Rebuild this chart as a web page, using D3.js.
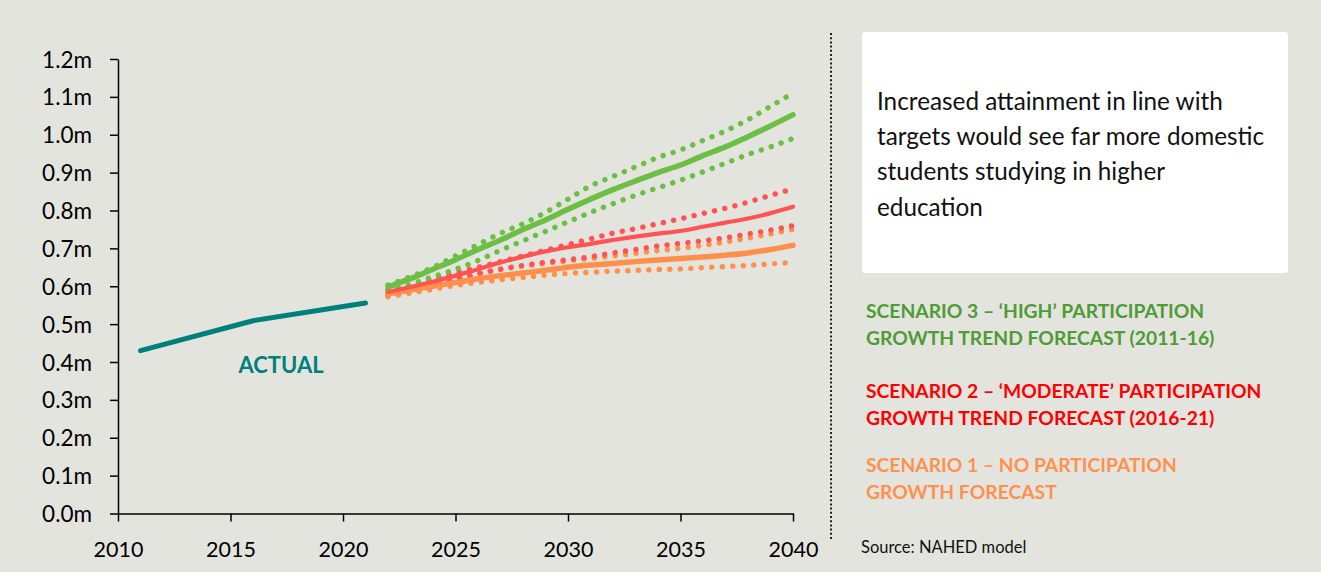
<!DOCTYPE html>
<html>
<head>
<meta charset="utf-8">
<script src="https://cdn.jsdelivr.net/npm/d3@7"></script>
<style>
  html, body { margin: 0; padding: 0; background: #e4e4df; }
  svg { display: block; font-family: Lato, "Open Sans", sans-serif; }
</style>
</head>
<body>
<svg id="chart" width="1321" height="572"></svg>
<script>
// Higher education domestic student numbers (millions)
const actualYears = [2011, 2016, 2021];
const actualValues = [0.43, 0.509, 0.556];

const forecastYears = [2022, 2023, 2024, 2025, 2026, 2027, 2028, 2029, 2030, 2031,
                       2032, 2033, 2034, 2035, 2036, 2037, 2038, 2039, 2040];

// Scenario 3 – 'high' participation growth trend (2011-16)
const highMid  = [0.598, 0.620, 0.645, 0.670, 0.697, 0.722, 0.750, 0.775, 0.803, 0.830,
                  0.855, 0.878, 0.900, 0.920, 0.945, 0.968, 0.995, 1.023, 1.053];
const highUp   = [0.603, 0.625, 0.650, 0.680, 0.710, 0.740, 0.765, 0.795, 0.830, 0.865,
                  0.890, 0.915, 0.940, 0.960, 0.985, 1.010, 1.040, 1.075, 1.110];
const highLow  = [0.590, 0.605, 0.625, 0.645, 0.668, 0.695, 0.720, 0.745, 0.770, 0.795,
                  0.818, 0.840, 0.860, 0.880, 0.902, 0.925, 0.948, 0.968, 0.990];

// Scenario 2 – 'moderate' participation growth trend (2016-21)
const modMid   = [0.585, 0.598, 0.612, 0.628, 0.645, 0.663, 0.678, 0.692, 0.703, 0.712,
                  0.722, 0.731, 0.739, 0.746, 0.757, 0.768, 0.779, 0.793, 0.810];
const modUp    = [0.590, 0.603, 0.620, 0.635, 0.650, 0.665, 0.680, 0.695, 0.710, 0.725,
                  0.740, 0.752, 0.765, 0.778, 0.792, 0.806, 0.822, 0.840, 0.857];
const modLow   = [0.580, 0.590, 0.603, 0.618, 0.633, 0.645, 0.655, 0.663, 0.670, 0.678,
                  0.688, 0.697, 0.706, 0.713, 0.720, 0.728, 0.738, 0.748, 0.760];

// Scenario 1 – no participation growth
const noMid    = [0.580, 0.590, 0.600, 0.610, 0.620, 0.628, 0.635, 0.642, 0.650, 0.656,
                  0.660, 0.665, 0.669, 0.673, 0.677, 0.682, 0.688, 0.697, 0.708];
const noUp     = [0.575, 0.590, 0.605, 0.620, 0.633, 0.645, 0.653, 0.660, 0.667, 0.673,
                  0.680, 0.687, 0.694, 0.700, 0.708, 0.717, 0.727, 0.738, 0.750];
const noLow    = [0.572, 0.582, 0.592, 0.602, 0.610, 0.617, 0.623, 0.629, 0.634, 0.637,
                  0.640, 0.642, 0.644, 0.646, 0.649, 0.652, 0.655, 0.659, 0.663];

const xTicks = [2010, 2015, 2020, 2025, 2030, 2035, 2040];
const yTicks = [0, 0.1, 0.2, 0.3, 0.4, 0.5, 0.6, 0.7, 0.8, 0.9, 1.0, 1.1, 1.2];

const noteLines = [
  "Increased attainment in line with",
  "targets would see far more domestic",
  "students studying in higher",
  "education"
];
const legendItems = [
  { lines: ["SCENARIO 3 \u2013 \u2018HIGH\u2019 PARTICIPATION", "GROWTH TREND FORECAST (2011-16)"], color: "#4f9b35" },
  { lines: ["SCENARIO 2 \u2013 \u2018MODERATE\u2019 PARTICIPATION", "GROWTH TREND FORECAST (2016-21)"], color: "#ff0000" },
  { lines: ["SCENARIO 1 \u2013 NO PARTICIPATION", "GROWTH FORECAST"], color: "#ff914d" }
];
const sourceText = "Source: NAHED model";

const colors = { actual: "#00807a", high: "#6cbf45", mod: "#ff5252", no: "#ff8f4a" };

const svg = d3.select("#chart");

const x = d3.scaleLinear().domain([2010, 2040]).range([118, 793]);
const y = d3.scaleLinear().domain([0, 1.2]).range([513.5, 59]);

// Axes
const xAxis = d3.axisBottom(x).tickValues(xTicks).tickFormat(d3.format("d")).tickSize(8).tickSizeOuter(0);
const yAxis = d3.axisLeft(y).tickValues(yTicks).tickFormat(d => d.toFixed(1) + "m").tickSize(8).tickSizeOuter(0);

const gx = svg.append("g").attr("transform", `translate(0,${y(0)})`).call(xAxis);
const gy = svg.append("g").attr("transform", `translate(${x(2010)},0)`).call(yAxis);

[gx, gy].forEach(g => {
  g.select(".domain").attr("stroke", "#000").attr("stroke-width", 1.5);
  g.selectAll(".tick line").attr("stroke", "#000").attr("stroke-width", 1.5);
  g.selectAll(".tick text").attr("fill", "#000")
    .attr("font-family", "Lato, 'Open Sans', sans-serif");
});
gx.selectAll(".tick text").attr("font-size", 21.5).attr("y", 43.5).attr("dy", 0);
gy.selectAll(".tick text").attr("font-size", 22.5).attr("x", -26).attr("dy", "0.36em");

const line = d3.line().x(d => x(d[0])).y(d => y(d[1])).curve(d3.curveMonotoneX);
const zip = (xs, ys) => xs.map((v, i) => [v, ys[i]]);

function drawLine(values, color, width, dotted) {
  const p = svg.append("path")
    .datum(zip(forecastYears, values))
    .attr("d", line)
    .attr("fill", "none")
    .attr("stroke", color)
    .attr("stroke-width", width)
    .attr("stroke-linecap", "round")
    .attr("stroke-linejoin", "round");
  if (dotted) p.attr("stroke-dasharray", "0.1 10.4");
  return p;
}

// Dotted ranges first, then central forecasts
drawLine(noLow, colors.no, 5.4, true);
drawLine(noUp, colors.no, 5.4, true);
drawLine(modLow, colors.mod, 5.4, true);
drawLine(modUp, colors.mod, 5.4, true);
drawLine(highLow, colors.high, 5.4, true);
drawLine(highUp, colors.high, 5.4, true);
drawLine(noMid, colors.no, 5.5, false);
drawLine(modMid, colors.mod, 4.2, false);
drawLine(highMid, colors.high, 5.5, false);

// Actual series
svg.append("path")
  .datum(zip(actualYears, actualValues))
  .attr("d", d3.line().x(d => x(d[0])).y(d => y(d[1])))
  .attr("fill", "none")
  .attr("stroke", colors.actual)
  .attr("stroke-width", 5)
  .attr("stroke-linecap", "round")
  .attr("stroke-linejoin", "round");

svg.append("text")
  .attr("x", 281).attr("y", 373)
  .attr("text-anchor", "middle")
  .attr("font-size", 22).attr("font-weight", 700)
  .attr("fill", colors.actual)
  .text("ACTUAL");

// Dotted separator
svg.append("line")
  .attr("x1", 831).attr("x2", 831).attr("y1", 33).attr("y2", 540)
  .attr("stroke", "#222").attr("stroke-width", 2)
  .attr("stroke-dasharray", "2 2.2");

// Commentary box
svg.append("rect")
  .attr("x", 862).attr("y", 32).attr("width", 426).attr("height", 241)
  .attr("rx", 3).attr("fill", "#ffffff");

svg.append("g").selectAll("text").data(noteLines).join("text")
  .attr("x", 877).attr("y", (d, i) => 110 + i * 35.2)
  .attr("font-size", 24.3).attr("fill", "#111")
  .text(d => d);

// Scenario legend
const legendTop = [318, 398, 472];
legendItems.forEach((item, k) => {
  svg.append("g").selectAll("text").data(item.lines).join("text")
    .attr("x", 866).attr("y", (d, i) => legendTop[k] + i * 27)
    .attr("font-size", 19.3).attr("font-weight", 700)
    .attr("fill", item.color)
    .text(d => d);
});

svg.append("text")
  .attr("x", 861).attr("y", 553)
  .attr("font-size", 16.5).attr("fill", "#111")
  .text(sourceText);
</script>
</body>
</html>
